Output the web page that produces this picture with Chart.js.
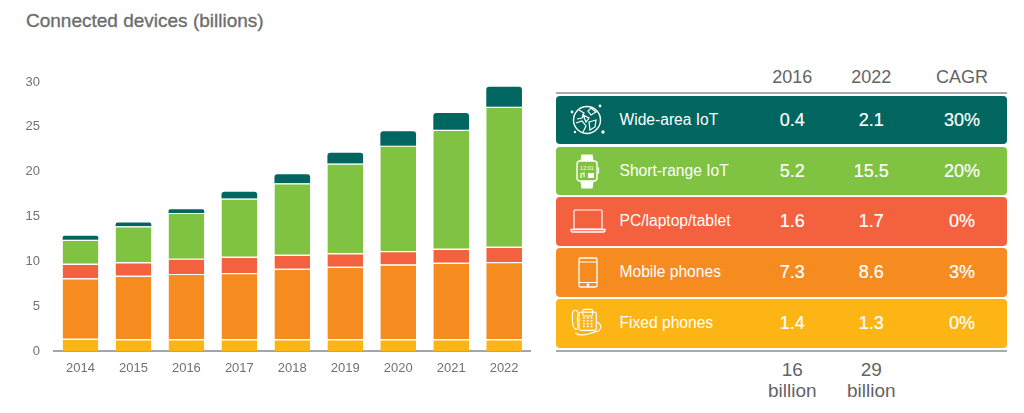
<!DOCTYPE html>
<html>
<head>
<meta charset="utf-8">
<script src="https://cdn.jsdelivr.net/npm/chart.js@4"></script>
<style>
html,body{margin:0;padding:0;background:#fff;width:1024px;height:413px;overflow:hidden;font-family:"Liberation Sans",Arial,sans-serif;}
#title{position:absolute;left:26px;top:10px;font-size:19px;color:#6d6e70;line-height:22px;white-space:nowrap;-webkit-text-stroke:.35px #6d6e70;}
#wrap{position:absolute;left:0;top:0;width:545px;height:385px;}
.t{position:absolute;transform:translateX(-50%);text-align:center;white-space:nowrap;}
.hdr{top:66px;font-size:18px;line-height:22px;color:#636466;}
.rule{position:absolute;left:556px;width:451px;height:2px;background:#a9aaad;}
.row{position:absolute;left:556px;width:451px;height:48.4px;border-radius:4px;}
.lab{position:absolute;left:63.5px;top:0;line-height:47px;font-size:15.6px;color:#fff;white-space:nowrap;}
.val{position:absolute;top:0;line-height:48px;font-size:18px;color:#fff;transform:translateX(-50%);white-space:nowrap;-webkit-text-stroke:.2px #fff;}
.foot{top:358.500px;font-size:19px;line-height:21.6px;color:#636466;}
.row svg{position:absolute;left:11px;top:4px;width:40px;height:40px;fill:none;stroke:#fff;stroke-width:1.2;}
</style>
</head>
<body>
<div id="title">Connected devices (billions)</div>
<div id="wrap"><canvas id="c" width="545" height="385"></canvas></div>
<div id="table"></div>
<script>
const years = ['2014','2015','2016','2017','2018','2019','2020','2021','2022'];
const fixedPhones = [1.36,1.3,1.3,1.3,1.3,1.3,1.3,1.3,1.3];
const mobilePhones = [6.74,7.1,7.3,7.4,7.87,8.1,8.35,8.54,8.61];
const pcLaptopTablet = [1.63,1.5,1.7,1.8,1.56,1.5,1.49,1.56,1.71];
const shortRangeIoT = [2.67,4.0,5.1,6.5,7.97,10.0,11.76,13.27,15.62];
const wideAreaIoT = [0.45,0.44,0.4,0.76,1.0,1.2,1.6,1.86,2.23];

const rowNames = ['Wide-area IoT','Short-range IoT','PC/laptop/tablet','Mobile phones','Fixed phones'];
const rowColors = ['#00665f','#80c242','#f4613f','#f68b1f','#fdb515'];
const values2016 = ['0.4','5.2','1.6','7.3','1.4'];
const values2022 = ['2.1','15.5','1.7','8.6','1.3'];
const cagr = ['30%','20%','0%','3%','0%'];
const headers = ['2016','2022','CAGR'];
const totals = ['16','29'];
const totalUnit = 'billion';

const icons = [
 '<circle cx="20" cy="20" r="13.5" stroke-width="1.4"/><path d="M12 10l5 3-2 5-5 1M24 8l5 4-5 3-3-4zM9 23l6-2 4 5-3 6M22 22l7-2-1 7-5 3zM16 15l6 3-3 4z"/><circle cx="5" cy="12" r=".8" fill="#fff"/><circle cx="33" cy="6" r=".8" fill="#fff"/><circle cx="36" cy="32" r="1.1" fill="#fff"/><circle cx="8" cy="32" r=".6" fill="#fff"/>',
 '<rect x="10" y="10" width="20" height="20" rx="3" stroke-width="1.4"/><path d="M14 10l1-6h10l1 6M14 30l1 7h10l1-7" fill="#fff"/><path d="M30 17h1.5v5H30"/><text x="20" y="19" font-size="5.5" fill="#fff" stroke="none" text-anchor="middle" font-family="Liberation Sans">12:01</text><rect x="21" y="22" width="6" height="5" fill="#fff" stroke="none"/><path d="M14 27v-4l3-1v4"/>',
 '<rect x="7" y="9" width="28" height="19" rx="1"/><path d="M4 28.500h34v1a1.500 1.500 0 0 1-1.500 1.500h-31a1.500 1.500 0 0 1-1.500-1.500z" stroke-width="1.3"/>',
 '<rect x="12" y="6" width="18" height="29" rx="1.500" stroke-width="1.3"/><path d="M12 10h18M12 30.500h18"/><circle cx="21" cy="32.800" r=".9" fill="#fff"/>',
 '<g transform="translate(1.500 1.500) scale(.96)"><path d="M7 6c-3 0-3 3-3 8s1 11 4 12c2 0 2-2 2-4-1-2-1-9 0-12 0-2-1-4-3-4z"/><rect x="11" y="8" width="18" height="19" rx="2"/><rect x="15" y="5" width="10" height="7" rx="1.500"/><path d="M15 14h2M19 14h2M23 14h2M15 17h2M19 17h2M23 17h2M15 20h2M19 20h2M23 20h2M15 23h2M19 23h2M23 23h2" stroke-width="1.500"/><path d="M29 18c5 2 6 6 3 9-3 2-8 2-12 4-5 1-11 1-13-2"/></g>'
];

const seg = (label,data,color,extra) => Object.assign({
  label,data,backgroundColor:color,borderColor:'#ffffff',
  borderWidth:{top:1.2,left:0,right:0,bottom:0},borderSkipped:false
},extra||{});

new Chart(document.getElementById('c'),{
  type:'bar',
  data:{labels:years,datasets:[
    seg('Fixed phones',fixedPhones,rowColors[4]),
    seg('Mobile phones',mobilePhones,rowColors[3]),
    seg('PC/laptop/tablet',pcLaptopTablet,rowColors[2]),
    seg('Short-range IoT',shortRangeIoT,rowColors[1]),
    seg('Wide-area IoT',wideAreaIoT,rowColors[0],{borderWidth:0,borderRadius:{topLeft:3,topRight:3,bottomLeft:0,bottomRight:0}})
  ]},
  options:{
    responsive:false,animation:false,
    layout:{padding:{top:82,right:14.4,left:0,bottom:0}},
    plugins:{legend:{display:false},tooltip:{enabled:false}},
    datasets:{bar:{barPercentage:0.674,categoryPercentage:1}},
    scales:{
      x:{stacked:true,
        grid:{display:false,drawTicks:false},
        border:{display:true,color:'#a3a5ab',width:2},
        ticks:{color:'#717175',font:{size:13,family:'"Liberation Sans"'},padding:10,maxRotation:0},
        afterFit(s){s.height=34;}
      },
      y:{stacked:true,min:0,max:30,
        grid:{display:false,drawTicks:false},
        border:{display:false},
        ticks:{stepSize:5,color:'#717175',font:{size:13,family:'"Liberation Sans"'},padding:14},
        afterFit(s){s.width=54;}
      }
    }
  }
});

const table = document.getElementById('table');
const colX = [792.3,871.3,962];
const rowTop = [95.7,146.5,197.4,248.2,299.2];
let html = '';
headers.forEach((h,i)=>{html += `<div class="t hdr" style="left:${colX[i]}px">${h}</div>`;});
html += '<div class="rule" style="top:91.500px"></div><div class="rule" style="top:350px"></div>';
rowNames.forEach((n,i)=>{
  html += `<div class="row" style="top:${rowTop[i]}px;background:${rowColors[i]}"><svg viewBox="0 0 40 40">${icons[i]}</svg><div class="lab">${n}</div>`+
    `<div class="val" style="left:${colX[0]-556}px">${values2016[i]}</div>`+
    `<div class="val" style="left:${colX[1]-556}px">${values2022[i]}</div>`+
    `<div class="val" style="left:${colX[2]-556}px">${cagr[i]}</div></div>`;
});
totals.forEach((v,i)=>{html += `<div class="t foot" style="left:${colX[i]}px">${v}<br>${totalUnit}</div>`;});
table.innerHTML = html;
</script>
</body>
</html>
